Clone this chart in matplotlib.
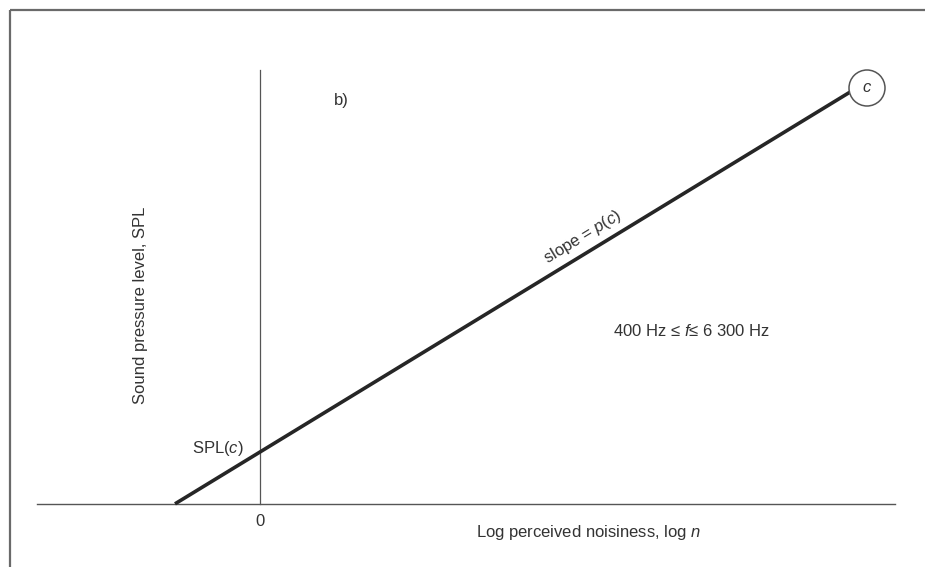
import numpy as np
import matplotlib.pyplot as plt
from matplotlib.patches import Circle

plt.rcParams['font.family'] = ['Liberation Sans', 'DejaVu Sans']
plt.rcParams['mathtext.fontset'] = 'custom'
plt.rcParams['mathtext.rm'] = 'Liberation Sans'
plt.rcParams['mathtext.it'] = 'Liberation Sans:italic'

# Schematic line: SPL = SPL(c) + p(c) * log n
spl_c = 0.52
slope_pc = 0.61
log_n = np.array([-0.85, 5.90])
spl = spl_c + slope_pc * log_n

# point c at the upper end of the line
c_point = (6.07, 4.16)

txt = '#333333'

fig = plt.figure(figsize=(9.25, 5.67), dpi=100)
ax = fig.add_axes([0, 0, 1, 1])
ax.set_xlim(-2.60, 6.65)
ax.set_ylim(-0.63, 5.04)
ax.axis('off')

# outer frame (left and top edges only)
ax.plot([-2.50, -2.50], [-0.63, 4.94], color='#6a6a6a', lw=1.6, solid_capstyle='butt')
ax.plot([-2.50, 6.65], [4.94, 4.94], color='#6a6a6a', lw=1.6, solid_capstyle='butt')

# axes
ax.plot([-2.23, 6.35], [0, 0], color='#555555', lw=1.0)
ax.plot([0, 0], [0, 4.34], color='#555555', lw=0.9)

# main line
ax.plot(log_n, spl, color='#262626', lw=2.6, solid_capstyle='butt')

# circle c
ax.add_patch(Circle(c_point, 0.18, facecolor='white', edgecolor='#555555', lw=1.1, zorder=3))
ax.text(c_point[0], c_point[1], '$\\mathit{c}$', ha='center', va='center',
        fontsize=12, color=txt, zorder=4)

fs = 12
ax.text(0.74, 4.04, 'b)', ha='left', va='center', fontsize=fs, color=txt)
ax.text(-1.19, 1.99, 'Sound pressure level, SPL', rotation=90, ha='center',
        va='center', fontsize=fs, color=txt)
ax.text(-0.16, 0.56, 'SPL$\\mathit{(c)}$', ha='right', va='center', fontsize=fs, color=txt)
ax.text(0, -0.17, '0', ha='center', va='center', fontsize=fs, color=txt)
ax.text(3.28, -0.29, 'Log perceived noisiness, log $\\mathit{n}$', ha='center',
        va='center', fontsize=fs, color=txt)
ax.text(3.23, 2.67, 'slope = $\\mathit{p(c)}$', rotation=np.degrees(np.arctan(slope_pc)),
        ha='center', va='center', fontsize=fs, color=txt, rotation_mode='anchor')
ax.text(4.32, 1.73, '400 Hz \u2264 $\\mathit{f}$\u2264 6 300 Hz', ha='center', va='center',
        fontsize=fs, color=txt)

fig.savefig('out.png', dpi=100)
